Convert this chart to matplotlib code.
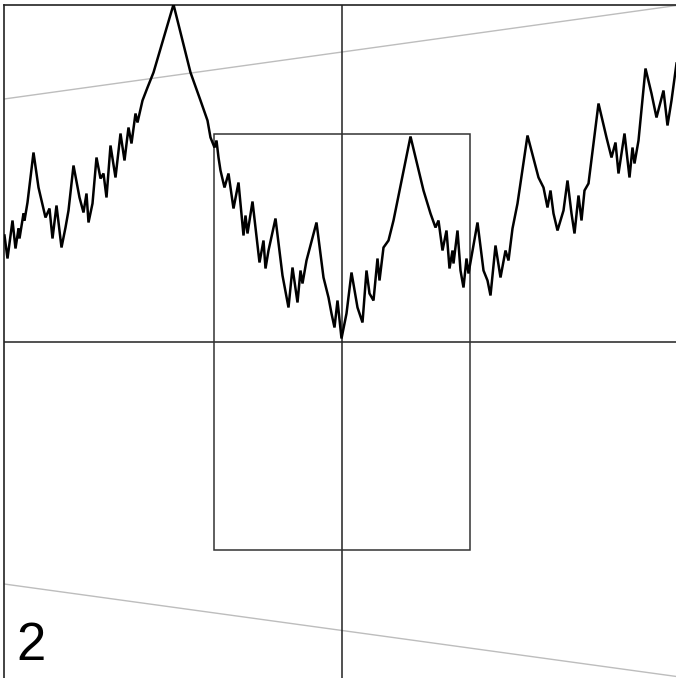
import matplotlib
matplotlib.use("Agg")
import matplotlib.pyplot as plt
from matplotlib.patches import Rectangle

# curve vertices (origin at the crossing of the axes)
curve_x = [-337, -334, -329, -326, -323, -322, -318, -317, -314, -308,
           -303, -296, -292, -289, -285, -280, -276, -273, -268, -262,
           -258, -255, -253, -249, -245, -241, -238, -235, -231, -226,
           -221, -217, -213, -210, -206, -204, -199, -194, -188, -168,
           -151, -141, -134, -131, -127, -125, -123, -121, -117, -113,
           -108, -103, -98, -96, -94, -89, -82, -78, -76, -73,
           -66, -59, -53, -49, -44, -41, -39, -35, -25, -18,
           -13, -10, -7, -4, 0, 5, 10, 16, 21, 25,
           28, 32, 36, 38, 42, 47, 52, 69, 82, 89,
           94, 97, 101, 105, 108, 111, 112, 116, 119, 122,
           125, 127, 136, 142, 146, 149, 154, 159, 164, 167,
           171, 176, 186, 197, 202, 206, 209, 212, 216, 222,
           226, 230, 233, 237, 240, 243, 247, 257, 265, 270,
           274, 277, 283, 288, 291, 293, 297, 304, 310, 315,
           322, 326, 330, 335]
curve_y = [106, 83, 121, 93, 113, 103, 128, 121, 139, 189,
           154, 124, 133, 103, 136, 94, 114, 131, 176, 144,
           129, 148, 119, 138, 184, 163, 168, 144, 196, 164,
           208, 181, 214, 198, 228, 219, 241, 254, 269, 337,
           269, 241, 221, 204, 194, 201, 184, 171, 154, 168,
           133, 159, 106, 126, 108, 140, 79, 101, 73, 91,
           123, 66, 34, 74, 39, 71, 58, 81, 119, 64,
           44, 28, 14, 41, 3, 28, 69, 34, 19, 71,
           48, 41, 83, 61, 94, 101, 121, 205, 151, 128,
           114, 121, 91, 111, 73, 91, 78, 111, 71, 54,
           83, 68, 119, 71, 61, 46, 96, 64, 91, 81,
           113, 138, 206, 164, 154, 134, 151, 128, 111, 131,
           161, 128, 108, 146, 121, 151, 158, 238, 204, 184,
           199, 168, 208, 164, 194, 178, 201, 273, 248, 224,
           251, 216, 241, 278]

# zoom window (half width, half height)
box_w = 128
box_h = 208

# faint grey guide lines: values at left and right edge
guide_x = [-341, 335]
guide_upper = [242, 336]
guide_lower = [-242, -335]

frame_label = "2"

fig = plt.figure(figsize=(6.76, 6.78), dpi=100)
ax = fig.add_axes([3.5 / 676, -0.5 / 678, 1.0, 674 / 678])
ax.set_xlim(-338, 338)
ax.set_ylim(-337, 337)

ax.plot(guide_x, guide_upper, color="#bdbdbd", lw=1.0, zorder=1)
ax.plot(guide_x, guide_lower, color="#bdbdbd", lw=1.0, zorder=1)

ax.axhline(0, color="#222222", lw=1.1, zorder=2)
ax.axvline(0, color="#222222", lw=1.1, zorder=2)
ax.add_patch(Rectangle((-box_w, -box_h), 2 * box_w, 2 * box_h,
                       fill=False, ec="#333333", lw=1.1, zorder=2))

ax.plot(curve_x, curve_y, color="black", lw=1.8, zorder=3,
        solid_joinstyle="miter")

ax.text(-325, -319, frame_label, fontsize=38, family="Liberation Sans",
        ha="left", va="baseline")

ax.set_xticks([])
ax.set_yticks([])
for s in ax.spines.values():
    s.set_linewidth(1.2)
    s.set_color("#222222")

fig.savefig("out.png", dpi=100)
